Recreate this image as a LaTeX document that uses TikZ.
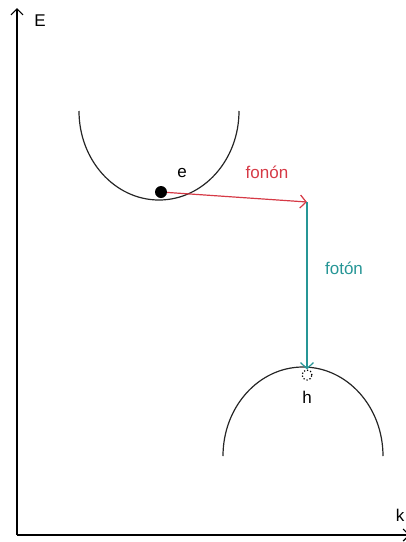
\documentclass[tikz,border=0pt]{standalone}
\usepackage{fontspec}
\setmainfont{Liberation Sans}
\usepackage{xcolor}
\usepackage{tikz}
\usetikzlibrary{arrows.meta}

\definecolor{fononred}{RGB}{214,58,70}
\definecolor{fotonteal}{RGB}{38,150,150}

\begin{document}
\begin{tikzpicture}[x=1pt,y=-1pt,
 band/.style={line width=1.2pt,black!85},
 axis/.style={line width=1.2pt,-{Straight Barb[length=6pt,width=12pt]}},
 fonon/.style={line width=1.2pt,fononred,-{Straight Barb[length=6pt,width=13pt]}},
 foton/.style={line width=1.2pt,fotonteal,-{Straight Barb[length=6pt,width=13pt]}},
 lbl/.style={font=\fontsize{17}{19}\selectfont,inner sep=0pt}
]
\useasboundingbox (0,0) rectangle (406,542);

% axes
\coordinate (o) at (17,535);
\coordinate (etop) at (17,8);
\coordinate (kend) at (410,535);
\draw[axis] (o)--(etop);
\draw[axis] (o)--(kend);
\node[lbl] (elbl) at (40,21) {E};
\node[lbl] (klbl) at (400,515) {k};

% bands
\draw[band] (79,111) arc[start angle=180,end angle=0,x radius=80,y radius=89];
\draw[band] (223,456) arc[start angle=180,end angle=360,x radius=80,y radius=89];

% carriers
\node[circle,fill=black,inner sep=0pt,minimum size=12pt] (e) at (161,192) {};
\node[circle,draw,dotted,line width=1.2pt,inner sep=0pt,minimum size=10pt] (h) at (307,375) {};
\coordinate (c) at (307,202);

\draw[fonon] (e)--(c);
\draw[foton] (c)--(h);

\node[lbl] (elab) at (182,173) {e};
\node[lbl] (hlab) at (307,397) {h};
\node[lbl,fononred] (fonlab) at (267,172) {fonón};
\node[lbl,fotonteal] (fotlab) at (344,268) {fotón};
\end{tikzpicture}
\end{document}
